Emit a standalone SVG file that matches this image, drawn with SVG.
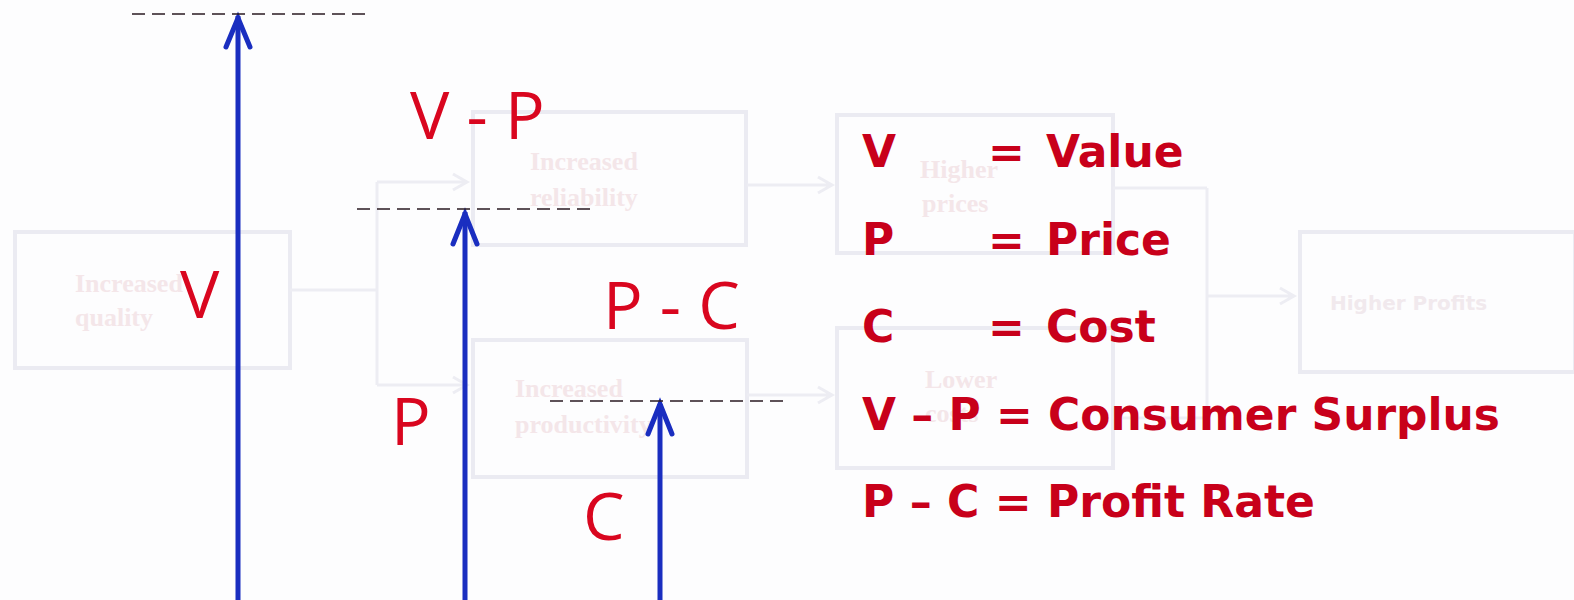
<svg xmlns="http://www.w3.org/2000/svg" width="1574" height="600" viewBox="0 0 1574 600">
<defs>
<style>
.bg{fill:none;stroke:#ebebf2;stroke-width:4}
.bgc{fill:none;stroke:#ededf3;stroke-width:3}
.bgt{font-family:"Liberation Serif",serif;font-weight:bold;font-size:26px;fill:#f4e6e9}
.bgs{font-family:"DejaVu Sans",sans-serif;font-weight:bold;font-size:20px;fill:#f1e9ed}
.ax{stroke:#1a2ec0;stroke-width:5;fill:none}
.hd{stroke:#1a2ec0;stroke-width:5;fill:none;stroke-linecap:round;stroke-linejoin:miter}
.dash{stroke:#2a1a22;stroke-width:1.6;stroke-dasharray:13 7;fill:none}
.lab{font-family:"Open Sans",sans-serif;font-size:66px;fill:#d9061f}
.leg{font-family:"DejaVu Sans",sans-serif;font-weight:bold;font-size:44px;fill:#c8001a}
</style>
</defs>
<rect width="1574" height="600" fill="#fdfdfe"/>
<g id="background-flow">
<g id="n-quality"><rect class="bg" x="15" y="232" width="275" height="136"/><text class="bgt" x="75" y="292">Increased</text><text class="bgt" x="75" y="326">quality</text></g>
<g id="n-reliability"><rect class="bg" x="473" y="112" width="273" height="133"/><text class="bgt" x="530" y="170">Increased</text><text class="bgt" x="530" y="206">reliability</text></g>
<g id="n-productivity"><rect class="bg" x="473" y="340" width="274" height="137"/><text class="bgt" x="515" y="397">Increased</text><text class="bgt" x="515" y="433">productivity</text></g>
<g id="n-prices"><rect class="bg" x="837" y="115" width="276" height="138"/><text class="bgt" x="920" y="178">Higher</text><text class="bgt" x="922" y="212">prices</text></g>
<g id="n-costs"><rect class="bg" x="837" y="328" width="276" height="140"/><text class="bgt" x="925" y="388">Lower</text><text class="bgt" x="925" y="422">costs</text></g>
<g id="n-profits"><rect class="bg" x="1300" y="232" width="275" height="140"/><text class="bgs" x="1330" y="310">Higher Profits</text></g>
<g id="bg-connectors">
<path class="bgc" d="M290 290 H377 M377 182 V385 M377 182 H465 M377 385 H465"/>
<path class="bgc" d="M453 174 L467 182 L453 190 M453 377 L467 385 L453 393"/>
<path class="bgc" d="M747 185 H830 M818 177 L832 185 L818 193 M747 395 H830 M818 387 L832 395 L818 403"/>
<path class="bgc" d="M1113 188 H1207 M1113 418 H1207 M1207 188 V418 M1207 296 H1292 M1280 288 L1294 296 L1280 304"/>
</g>
</g>
<g id="connectors">
<path class="ax" d="M238 600 V16"/>
<path class="hd" d="M226 47 L238 18 L250 47"/>
<path class="dash" d="M132 14 H366"/>
<path class="ax" d="M465 600 V212"/>
<path class="hd" d="M453 244 L465 214 L477 244"/>
<path class="dash" d="M357 209 H592"/>
<path class="ax" d="M660 600 V404"/>
<path class="hd" d="M648 434 L660 404 L672 434"/>
<path class="dash" d="M550 401 H786"/>
</g>
<g id="labels">
<text class="lab" x="180" y="318">V</text>
<text class="lab" x="410" y="139">V - P</text>
<text class="lab" x="603" y="329">P - C</text>
<text class="lab" x="391" y="445">P</text>
<text class="lab" x="583" y="540">C</text>
</g>
<g id="legend">
<text class="leg" x="862" y="167">V</text><text class="leg" x="988" y="167">=</text><text class="leg" x="1046" y="167">Value</text>
<text class="leg" x="862" y="255">P</text><text class="leg" x="988" y="255">=</text><text class="leg" x="1046" y="255">Price</text>
<text class="leg" x="862" y="342">C</text><text class="leg" x="988" y="342">=</text><text class="leg" x="1046" y="342">Cost</text>
<text class="leg" x="862" y="430" textLength="638" lengthAdjust="spacingAndGlyphs">V – P = Consumer Surplus</text>
<text class="leg" x="862" y="517" textLength="453" lengthAdjust="spacingAndGlyphs">P – C = Profit Rate</text>
</g>
</svg>
